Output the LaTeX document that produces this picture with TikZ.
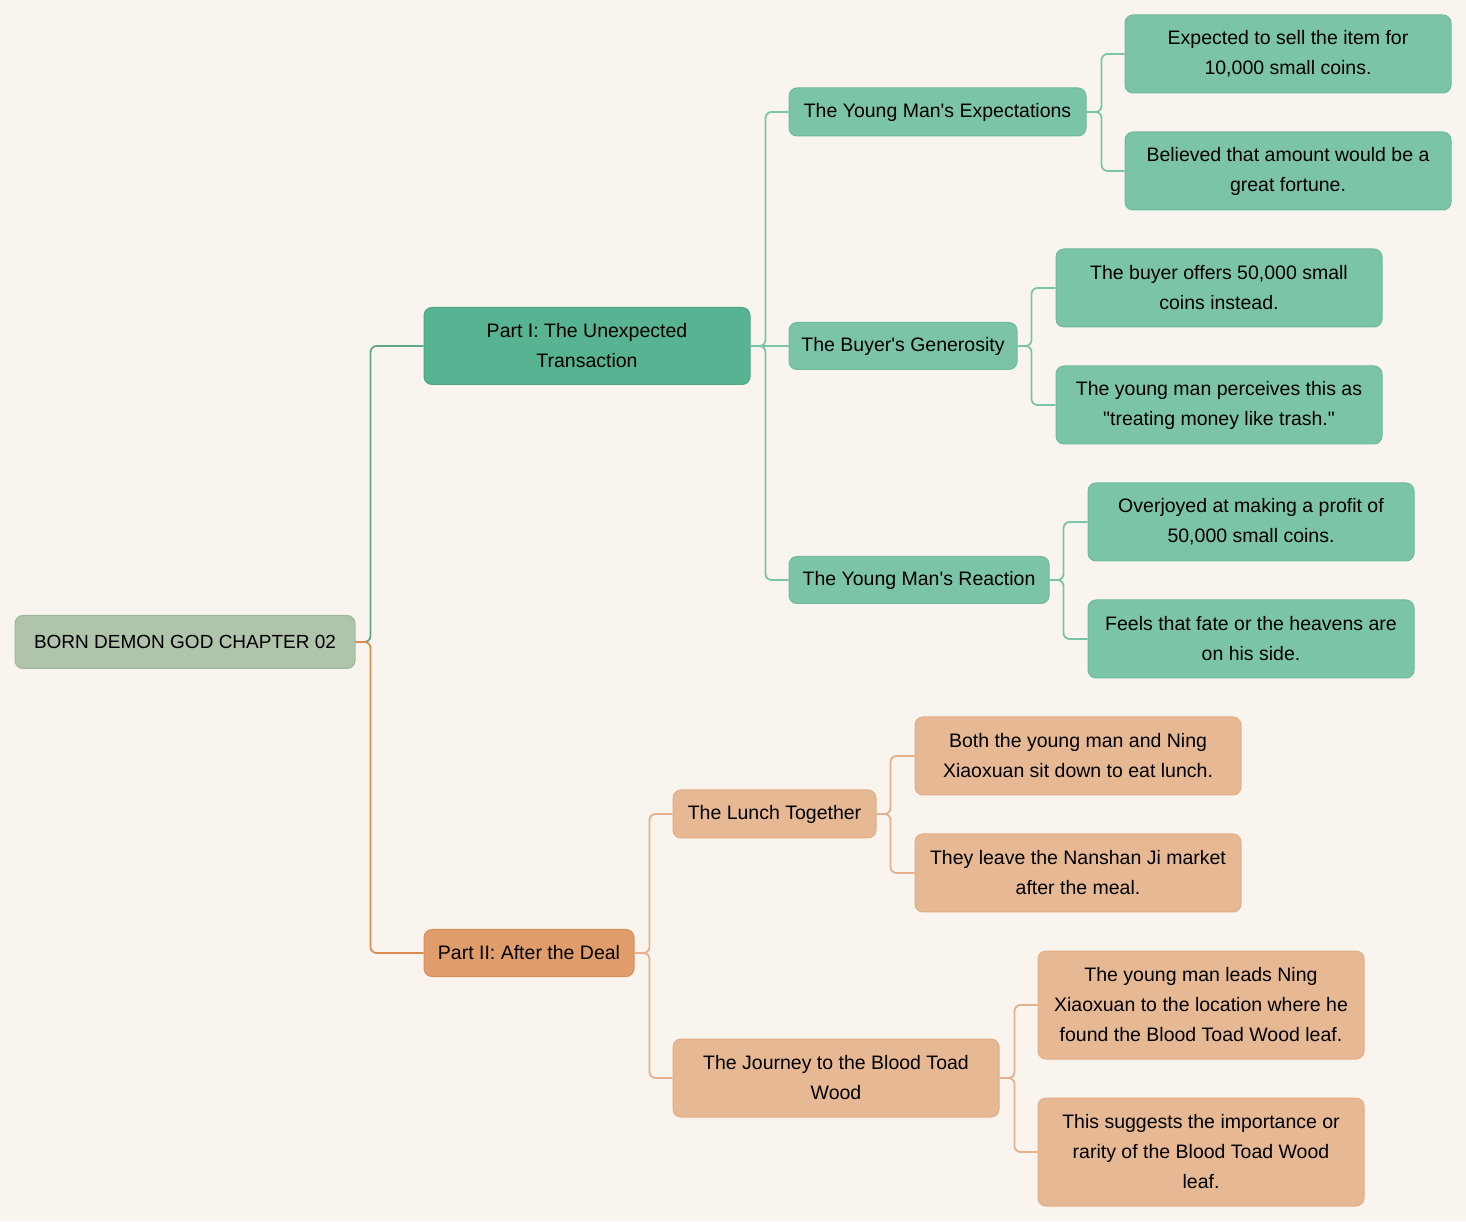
\documentclass[tikz,border=0pt]{standalone}
\usepackage{fontspec}
\setmainfont{Liberation Sans}[Ligatures=TeXOff]
\definecolor{bg}{HTML}{F9F5EE}
\definecolor{rootfill}{HTML}{AFC4AB}
\definecolor{rootdraw}{HTML}{9FB79B}
\definecolor{gA}{HTML}{57B391}
\definecolor{gAd}{HTML}{4DA585}
\definecolor{gB}{HTML}{7BC4A8}
\definecolor{gBd}{HTML}{6DBA9C}
\definecolor{oA}{HTML}{E09D6B}
\definecolor{oAd}{HTML}{D68F5A}
\definecolor{oB}{HTML}{E6B894}
\definecolor{oBd}{HTML}{E2AD84}
\definecolor{lgA}{HTML}{5BAA8A}
\definecolor{lgB}{HTML}{7BC4A8}
\definecolor{loA}{HTML}{D98C50}
\definecolor{loB}{HTML}{E6B08A}
\tikzset{
  box/.style={rounded corners=8pt, align=center, inner sep=0pt,
    font=\fontsize{19.5}{30}\selectfont, text=black, line width=1pt},
  rootbox/.style={box, fill=rootfill, draw=rootdraw, minimum width=340pt, minimum height=53pt},
  gAbox/.style={box, fill=gA, draw=gAd},
  gBbox/.style={box, fill=gB, draw=gBd},
  oAbox/.style={box, fill=oA, draw=oAd},
  oBbox/.style={box, fill=oB, draw=oBd},
  conn/.style={line width=1.8pt, rounded corners=6pt},
}
\begin{document}
\begin{tikzpicture}[x=1pt,y=1pt]
\fill[bg] (0,0) rectangle (1466,1221);
\useasboundingbox (0,0) rectangle (1466,1221);

\node[rootbox, font=\fontsize{19}{30}\selectfont] (root) at (185,579) {BORN DEMON GOD CHAPTER 02};
\node[gAbox, minimum width=326pt, minimum height=77pt] (p1) at (587,875) {Part I: The Unexpected\\Transaction};
\node[oAbox, minimum width=210pt, minimum height=47pt] (p2) at (529,268) {Part II: After the Deal};

\node[gBbox, minimum width=297pt, minimum height=48pt] (exp) at (937.5,1109) {The Young Man's Expectations};
\node[gBbox, minimum width=228pt, minimum height=47pt] (gen) at (903,875) {The Buyer's Generosity};
\node[gBbox, minimum width=260pt, minimum height=47pt] (rea) at (919,641) {The Young Man's Reaction};

\node[gBbox, minimum width=326pt, minimum height=78pt] (e1) at (1288,1167) {Expected to sell the item for\\10,000 small coins.};
\node[gBbox, minimum width=326pt, minimum height=78pt] (e2) at (1288,1050) {Believed that amount would be a\\great fortune.};
\node[gBbox, minimum width=326pt, minimum height=78pt] (g1) at (1219,933) {The buyer offers 50,000 small\\coins instead.};
\node[gBbox, minimum width=326pt, minimum height=78pt] (g2) at (1219,816) {The young man perceives this as\\"treating money like trash."};
\node[gBbox, minimum width=326pt, minimum height=78pt] (r1) at (1251,699) {Overjoyed at making a profit of\\50,000 small coins.};
\node[gBbox, minimum width=326pt, minimum height=78pt] (r2) at (1251,582) {Feels that fate or the heavens are\\on his side.};

\node[oBbox, minimum width=203pt, minimum height=48pt] (lun) at (774.5,407) {The Lunch Together};
\node[oBbox, minimum width=326pt, minimum height=78pt] (jou) at (836,143) {The Journey to the Blood Toad\\Wood};

\node[oBbox, minimum width=326pt, minimum height=78pt] (l1) at (1078,465) {Both the young man and Ning\\Xiaoxuan sit down to eat lunch.};
\node[oBbox, minimum width=326pt, minimum height=78pt] (l2) at (1078,348) {They leave the Nanshan Ji market\\after the meal.};
\node[oBbox, minimum width=326pt, minimum height=108pt] (j1) at (1201,216) {The young man leads Ning\\Xiaoxuan to the location where he\\found the Blood Toad Wood leaf.};
\node[oBbox, minimum width=326pt, minimum height=108pt] (j2) at (1201,69) {This suggests the importance or\\rarity of the Blood Toad Wood\\leaf.};

% connectors
\draw[conn, lgA] (root.east) -- ++(15,0) |- (p1.west);
\draw[conn, loA] (root.east) -- ++(15,0) |- (p2.west);

\draw[conn, lgB] (p1.east) -- ++(15,0) |- (exp.west);
\draw[conn, lgB] (p1.east) -- (gen.west);
\draw[conn, lgB] (p1.east) -- ++(15,0) |- (rea.west);

\draw[conn, lgB] (exp.east) -- ++(15,0) |- (e1.west);
\draw[conn, lgB] (exp.east) -- ++(15,0) |- (e2.west);
\draw[conn, lgB] (gen.east) -- ++(14,0) |- (g1.west);
\draw[conn, lgB] (gen.east) -- ++(14,0) |- (g2.west);
\draw[conn, lgB] (rea.east) -- ++(14,0) |- (r1.west);
\draw[conn, lgB] (rea.east) -- ++(14,0) |- (r2.west);

\draw[conn, loB] (p2.east) -- ++(15,0) |- (lun.west);
\draw[conn, loB] (p2.east) -- ++(15,0) |- (jou.west);

\draw[conn, loB] (lun.east) -- ++(14,0) |- (l1.west);
\draw[conn, loB] (lun.east) -- ++(14,0) |- (l2.west);
\draw[conn, loB] (jou.east) -- ++(15,0) |- (j1.west);
\draw[conn, loB] (jou.east) -- ++(15,0) |- (j2.west);
\end{tikzpicture}
\end{document}
